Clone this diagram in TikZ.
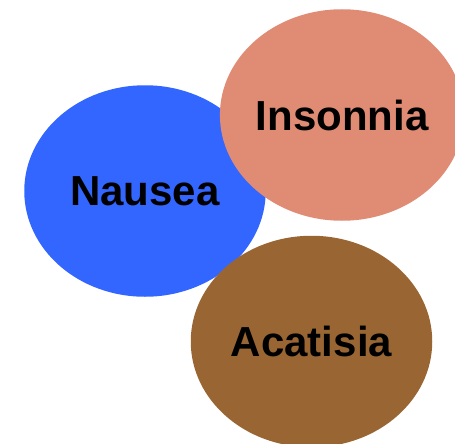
\documentclass[tikz,border=0pt]{standalone}
\usepackage{fontspec}
\setmainfont{Liberation Sans}
\usetikzlibrary{shapes.geometric}
\definecolor{nauseablue}{HTML}{3366FF}
\definecolor{insonniasalmon}{HTML}{E08B74}
\definecolor{acatisiabrown}{HTML}{996633}

\begin{document}
\begin{tikzpicture}
[
	blob/.style={ellipse,inner sep=0pt,minimum width=241.5pt,minimum height=211.5pt,font=\fontsize{42}{42}\selectfont\bfseries},
	x=1pt,y=-1pt
]

	\useasboundingbox (0,0) rectangle (455,444);

	% ellipses, back to front
	\node[blob,fill=nauseablue] at (145,191) (nausea) {Nausea};
	\node[blob,fill=insonniasalmon] at (342,115) (insonnia) {Insonnia};
	\node[blob,fill=acatisiabrown] at (311.5,341.5) (acatisia) {Acatisia};

\end{tikzpicture}
\end{document}
